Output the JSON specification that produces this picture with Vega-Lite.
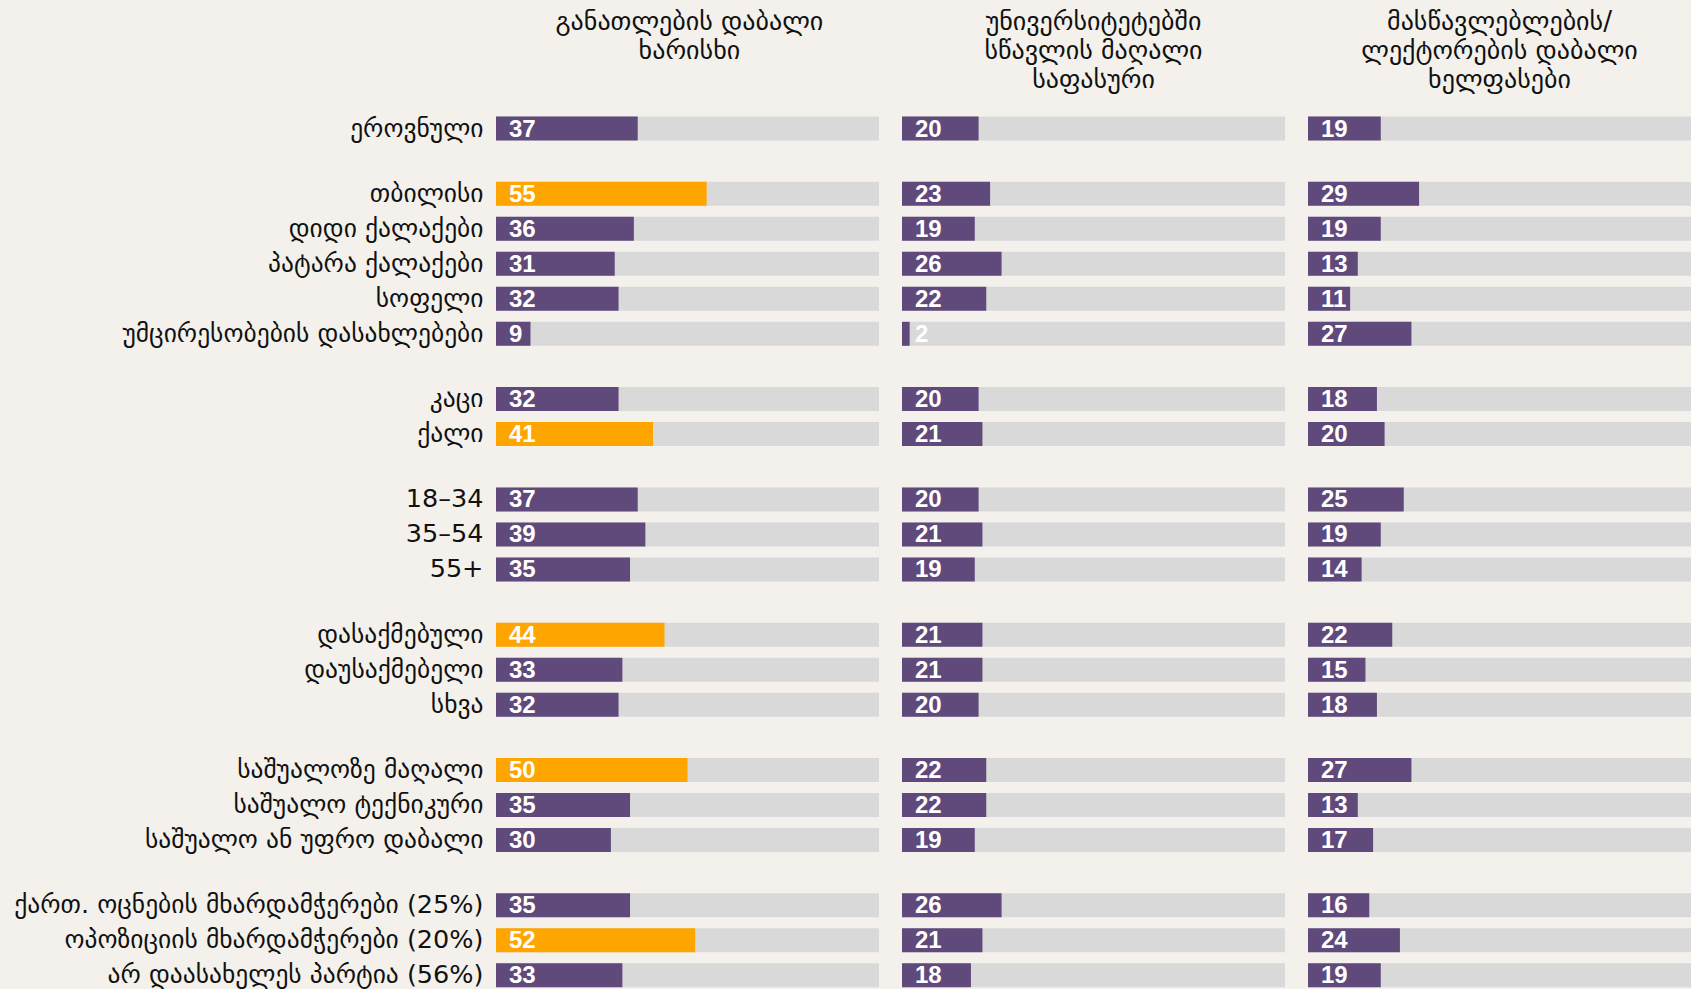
{
  "$schema": "https://vega.github.io/schema/vega-lite/v6.json",
  "background": "#f4f1ec",
  "padding": {"left": 13, "top": 9, "right": 0, "bottom": 0},
  "spacing": 23,
  "data": {"values": [
    {"group": "total", "label": "ეროვნული", "a": 37, "b": 20, "c": 19, "sig": false},
    {"group": "settlement", "label": "თბილისი", "a": 55, "b": 23, "c": 29, "sig": true},
    {"group": "settlement", "label": "დიდი ქალაქები", "a": 36, "b": 19, "c": 19, "sig": false},
    {"group": "settlement", "label": "პატარა ქალაქები", "a": 31, "b": 26, "c": 13, "sig": false},
    {"group": "settlement", "label": "სოფელი", "a": 32, "b": 22, "c": 11, "sig": false},
    {"group": "settlement", "label": "უმცირესობების დასახლებები", "a": 9, "b": 2, "c": 27, "sig": false},
    {"group": "gender", "label": "კაცი", "a": 32, "b": 20, "c": 18, "sig": false},
    {"group": "gender", "label": "ქალი", "a": 41, "b": 21, "c": 20, "sig": true},
    {"group": "age", "label": "18–34", "a": 37, "b": 20, "c": 25, "sig": false},
    {"group": "age", "label": "35–54", "a": 39, "b": 21, "c": 19, "sig": false},
    {"group": "age", "label": "55+", "a": 35, "b": 19, "c": 14, "sig": false},
    {"group": "employment", "label": "დასაქმებული", "a": 44, "b": 21, "c": 22, "sig": true},
    {"group": "employment", "label": "დაუსაქმებელი", "a": 33, "b": 21, "c": 15, "sig": false},
    {"group": "employment", "label": "სხვა", "a": 32, "b": 20, "c": 18, "sig": false},
    {"group": "education", "label": "საშუალოზე მაღალი", "a": 50, "b": 22, "c": 27, "sig": true},
    {"group": "education", "label": "საშუალო ტექნიკური", "a": 35, "b": 22, "c": 13, "sig": false},
    {"group": "education", "label": "საშუალო ან უფრო დაბალი", "a": 30, "b": 19, "c": 17, "sig": false},
    {"group": "party", "label": "ქართ. ოცნების მხარდამჭერები (25%)", "a": 35, "b": 26, "c": 16, "sig": false},
    {"group": "party", "label": "ოპოზიციის მხარდამჭერები (20%)", "a": 52, "b": 21, "c": 24, "sig": true},
    {"group": "party", "label": "არ დაასახელეს პარტია (56%)", "a": 33, "b": 18, "c": 19, "sig": false}
  ]},
  "hconcat": [
    {
      "title": {"text": ["განათლების დაბალი", "ხარისხი"], "offset": 47, "dx": 243},
      "facet": {"row": {"field": "group", "type": "nominal", "sort": ["total", "settlement", "gender", "age", "employment", "education", "party"], "header": {"labels": false, "title": null}}},
      "spacing": 30.3,
      "resolve": {"scale": {"y": "independent"}},
      "spec": {
        "width": 383,
        "height": {"step": 35},
        "encoding": {
          "y": {"field": "label", "type": "nominal", "sort": null, "title": null,
                "scale": {"paddingInner": 0.314, "paddingOuter": 0.157},
                "axis": {"labelFont": "DejaVu Sans", "labelFontSize": 25.5, "labelColor": "#111111", "labelPadding": 13, "labelLimit": 800}}
        },
        "layer": [
          {"mark": {"type": "bar", "color": "#d9d9d9"}, "encoding": {"x": {"datum": 100, "type": "quantitative", "scale": {"domain": [0, 100]}, "axis": null}, "x2": {"datum": 0}}},
          {"mark": {"type": "bar"}, "encoding": {"x": {"field": "a", "type": "quantitative", "scale": {"domain": [0, 100]}, "axis": null},
            "color": {"condition": {"test": "datum.sig", "value": "#ffa500"}, "value": "#604a7b"}}},
          {"mark": {"type": "text", "align": "left", "baseline": "middle", "dx": 13, "dy": 1, "font": "Liberation Sans", "fontWeight": "bold", "fontSize": 24, "color": "white"},
           "encoding": {"x": {"datum": 0, "type": "quantitative"}, "text": {"field": "a"}}}
        ]
      }
    },
    {
      "title": {"text": ["უნივერსიტეტებში", "სწავლის მაღალი", "საფასური"], "offset": 18},
      "facet": {"row": {"field": "group", "type": "nominal", "sort": ["total", "settlement", "gender", "age", "employment", "education", "party"], "header": {"labels": false, "title": null}}},
      "spacing": 30.3,
      "resolve": {"scale": {"y": "independent"}},
      "spec": {
        "width": 383,
        "height": {"step": 35},
        "encoding": {
          "y": {"field": "label", "type": "nominal", "sort": null, "title": null,
                "scale": {"paddingInner": 0.314, "paddingOuter": 0.157}, "axis": null}
        },
        "layer": [
          {"mark": {"type": "bar", "color": "#d9d9d9"}, "encoding": {"x": {"datum": 100, "type": "quantitative", "scale": {"domain": [0, 100]}, "axis": null}, "x2": {"datum": 0}}},
          {"mark": {"type": "bar", "color": "#604a7b"}, "encoding": {"x": {"field": "b", "type": "quantitative", "scale": {"domain": [0, 100]}, "axis": null}}},
          {"mark": {"type": "text", "align": "left", "baseline": "middle", "dx": 13, "dy": 1, "font": "Liberation Sans", "fontWeight": "bold", "fontSize": 24, "color": "white"},
           "encoding": {"x": {"datum": 0, "type": "quantitative"}, "text": {"field": "b"}}}
        ]
      }
    },
    {
      "title": {"text": ["მასწავლებლების/", "ლექტორების დაბალი", "ხელფასები"], "offset": 18},
      "facet": {"row": {"field": "group", "type": "nominal", "sort": ["total", "settlement", "gender", "age", "employment", "education", "party"], "header": {"labels": false, "title": null}}},
      "spacing": 30.3,
      "resolve": {"scale": {"y": "independent"}},
      "spec": {
        "width": 383,
        "height": {"step": 35},
        "encoding": {
          "y": {"field": "label", "type": "nominal", "sort": null, "title": null,
                "scale": {"paddingInner": 0.314, "paddingOuter": 0.157}, "axis": null}
        },
        "layer": [
          {"mark": {"type": "bar", "color": "#d9d9d9"}, "encoding": {"x": {"datum": 100, "type": "quantitative", "scale": {"domain": [0, 100]}, "axis": null}, "x2": {"datum": 0}}},
          {"mark": {"type": "bar", "color": "#604a7b"}, "encoding": {"x": {"field": "c", "type": "quantitative", "scale": {"domain": [0, 100]}, "axis": null}}},
          {"mark": {"type": "text", "align": "left", "baseline": "middle", "dx": 13, "dy": 1, "font": "Liberation Sans", "fontWeight": "bold", "fontSize": 24, "color": "white"},
           "encoding": {"x": {"datum": 0, "type": "quantitative"}, "text": {"field": "c"}}}
        ]
      }
    }
  ],
  "config": {
    "view": {"stroke": null},
    "axis": {"domain": false, "ticks": false, "grid": false},
    "title": {"font": "DejaVu Sans", "fontSize": 26, "fontWeight": "normal", "color": "#111111", "anchor": "middle", "lineHeight": 29, "baseline": "bottom"}
  }
}
